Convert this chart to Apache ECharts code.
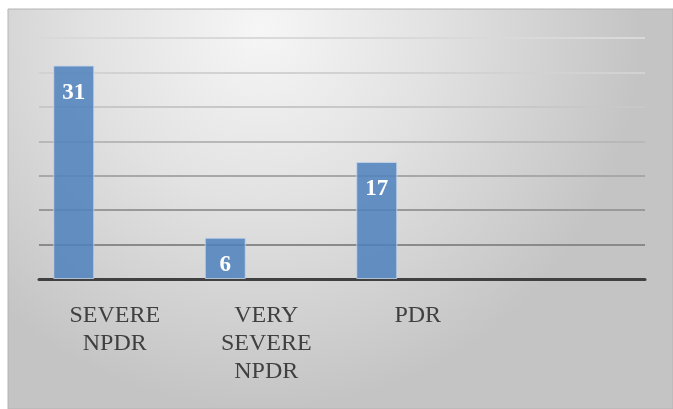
<!DOCTYPE html>
<html>
<head>
<meta charset="utf-8">
<script src="https://cdn.jsdelivr.net/npm/echarts@6/dist/echarts.min.js"></script>
<style>
  html, body { margin: 0; padding: 0; background: #ffffff; }
  #chart { width: 673px; height: 409px; }
</style>
</head>
<body>
<div id="chart"></div>
<script>
// Retinopathy grade categories (the last slot is an empty category)
const categories = ['SEVERE\nNPDR', 'VERY\nSEVERE\nNPDR', 'PDR', ''];
// Case counts per grade
const cases = [31, 6, 17, null];
// Two further series of the clustered layout, with no values
const seriesB = [null, null, null, null];
const seriesC = [null, null, null, null];
// Value axis range
const axisMax = 35;
const axisStep = 5;

// Split line shades, from the baseline upward
const gridShades = ['#404040', '#8a8a8a', '#999999', '#a8a8a8', '#b8b8b8', '#c8c8c8', '#d2d2d2', '#d9d9d9'];

const chart = echarts.init(document.getElementById('chart'), null, { renderer: 'canvas' });

chart.setOption({
  animation: false,
  backgroundColor: '#ffffff',
  graphic: [
    {
      type: 'rect',
      z: -10,
      shape: { x: 8, y: 9, width: 665, height: 400 },
      style: {
        fill: {
          type: 'radial',
          x: 0.38, y: 0.05, r: 0.95,
          colorStops: [
            { offset: 0, color: '#f6f6f6' },
            { offset: 0.45, color: '#e2e2e2' },
            { offset: 1, color: '#c4c4c4' }
          ]
        },
        stroke: '#b4b4b4',
        lineWidth: 1
      }
    }
  ],
  grid: { left: 39, right: 28, top: 38, bottom: 130, containLabel: false },
  xAxis: {
    type: 'category',
    data: categories,
    axisLine: { show: true, lineStyle: { color: '#404040', width: 3 } },
    axisTick: { show: false },
    axisLabel: {
      interval: 0,
      margin: 23,
      color: '#404040',
      fontFamily: '"Liberation Serif", "Times New Roman", serif',
      fontSize: 24,
      lineHeight: 28,
      align: 'center'
    }
  },
  yAxis: {
    type: 'value',
    min: 0,
    max: axisMax,
    interval: axisStep,
    axisLine: { show: false },
    axisTick: { show: false },
    axisLabel: { show: false },
    splitLine: { show: true, lineStyle: { color: gridShades, width: 2 } }
  },
  series: [
    {
      name: 'Cases',
      type: 'bar',
      data: cases,
      barWidth: 41,
      barGap: '0%',
      itemStyle: {
        color: 'rgba(79,129,189,0.86)',
        borderColor: 'rgba(200,215,235,0.8)',
        borderWidth: 1
      },
      label: {
        show: true,
        position: 'insideTop',
        distance: 16,
        color: '#ffffff',
        fontFamily: '"Liberation Serif", "Times New Roman", serif',
        fontWeight: 'bold',
        fontSize: 23
      },
      z: 3
    },
    { name: 'B', type: 'bar', data: seriesB, barWidth: 41, barGap: '0%' },
    { name: 'C', type: 'bar', data: seriesC, barWidth: 41, barGap: '0%' }
  ]
});
</script>
</body>
</html>
